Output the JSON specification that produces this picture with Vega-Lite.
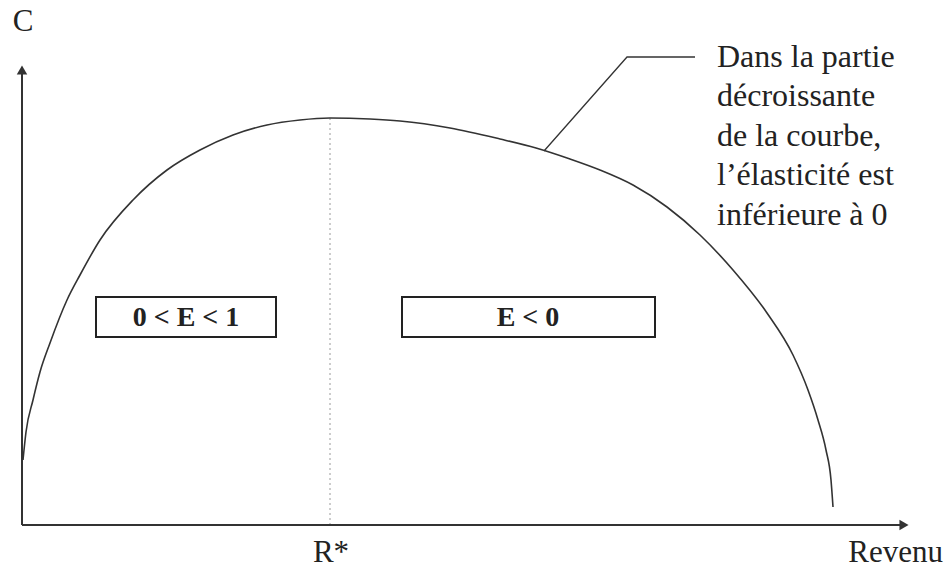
{
  "$schema": "https://vega.github.io/schema/vega-lite/v6.json",
  "width": 946,
  "height": 577,
  "autosize": {"type": "none"},
  "padding": 0,
  "background": "white",
  "config": {"view": {"stroke": null}},
  "datasets": {
    "courbe": [
      {"revenu": 1, "c": 65}, {"revenu": 4, "c": 93}, {"revenu": 11, "c": 125},
      {"revenu": 18, "c": 153}, {"revenu": 28, "c": 182}, {"revenu": 45, "c": 225},
      {"revenu": 58, "c": 250}, {"revenu": 78, "c": 285}, {"revenu": 111, "c": 325},
      {"revenu": 145, "c": 355}, {"revenu": 178, "c": 375}, {"revenu": 211, "c": 390},
      {"revenu": 245, "c": 400}, {"revenu": 278, "c": 405}, {"revenu": 308, "c": 407},
      {"revenu": 348, "c": 406}, {"revenu": 378, "c": 404}, {"revenu": 428, "c": 397},
      {"revenu": 478, "c": 386}, {"revenu": 514, "c": 377}, {"revenu": 548, "c": 366},
      {"revenu": 578, "c": 355}, {"revenu": 611, "c": 340}, {"revenu": 645, "c": 318},
      {"revenu": 678, "c": 290}, {"revenu": 711, "c": 255}, {"revenu": 745, "c": 212},
      {"revenu": 771, "c": 170}, {"revenu": 786, "c": 135}, {"revenu": 796, "c": 105},
      {"revenu": 804, "c": 75}, {"revenu": 809, "c": 45}, {"revenu": 811, "c": 18}
    ],
    "axes": [
      {"x": 0, "y": 0, "x2": 0, "y2": 458},
      {"x": 0, "y": 0, "x2": 882, "y2": 0}
    ],
    "arrows": [
      {"x": 0, "y": 455, "shape": "triangle-up"},
      {"x": 882, "y": 0, "shape": "triangle-right"}
    ],
    "rstar": [{"x": 308, "y": 0, "y2": 407}],
    "leader": [
      {"x": 522, "y": 374, "o": 1},
      {"x": 605, "y": 468, "o": 2},
      {"x": 673, "y": 468, "o": 3}
    ],
    "boxes": [
      {"x": 74, "x2": 254, "y": 188, "y2": 228, "label": "0 < E < 1", "cx": 164},
      {"x": 380, "x2": 633, "y": 188, "y2": 228, "label": "E < 0", "cx": 506}
    ],
    "labelsCenter": [
      {"x": 1, "y": 503, "text": "C"},
      {"x": 309, "y": -28, "text": "R*"}
    ],
    "labelsRight": [
      {"x": 921, "y": -28, "text": "Revenu"}
    ],
    "note": [
      {"x": 695, "y": 458, "text": "Dans la partie"},
      {"x": 695, "y": 419, "text": "décroissante"},
      {"x": 695, "y": 379, "text": "de la courbe,"},
      {"x": 695, "y": 340, "text": "l’élasticité est"},
      {"x": 695, "y": 300, "text": "inférieure à 0"}
    ]
  },
  "layer": [
    {
      "data": {"name": "rstar"},
      "mark": {"type": "rule", "color": "#9a9a9a", "strokeWidth": 1, "strokeDash": [2, 3]},
      "encoding": {
        "x": {"field": "x", "type": "quantitative", "scale": {"domain": [-22, 924], "nice": false, "zero": false}, "axis": null},
        "y": {"field": "y", "type": "quantitative", "scale": {"domain": [-52, 525], "nice": false, "zero": false}, "axis": null},
        "y2": {"field": "y2"}
      }
    },
    {
      "data": {"name": "axes"},
      "mark": {"type": "rule", "color": "#333333", "strokeWidth": 2},
      "encoding": {
        "x": {"field": "x", "type": "quantitative"},
        "y": {"field": "y", "type": "quantitative"},
        "x2": {"field": "x2"},
        "y2": {"field": "y2"}
      }
    },
    {
      "data": {"name": "arrows"},
      "mark": {"type": "point", "filled": true, "color": "#333333", "size": 110, "opacity": 1},
      "encoding": {
        "x": {"field": "x", "type": "quantitative"},
        "y": {"field": "y", "type": "quantitative"},
        "shape": {"field": "shape", "type": "nominal", "scale": null}
      }
    },
    {
      "data": {"name": "courbe"},
      "mark": {"type": "line", "color": "#333333", "strokeWidth": 1.6, "interpolate": "monotone"},
      "encoding": {
        "x": {"field": "revenu", "type": "quantitative"},
        "y": {"field": "c", "type": "quantitative"}
      }
    },
    {
      "data": {"name": "leader"},
      "mark": {"type": "line", "color": "#333333", "strokeWidth": 1.3},
      "encoding": {
        "x": {"field": "x", "type": "quantitative"},
        "y": {"field": "y", "type": "quantitative"},
        "order": {"field": "o"}
      }
    },
    {
      "data": {"name": "boxes"},
      "mark": {"type": "rect", "fill": "white", "fillOpacity": 0, "stroke": "#222222", "strokeWidth": 2},
      "encoding": {
        "x": {"field": "x", "type": "quantitative"},
        "x2": {"field": "x2"},
        "y": {"field": "y", "type": "quantitative"},
        "y2": {"field": "y2"}
      }
    },
    {
      "data": {"name": "boxes"},
      "mark": {"type": "text", "font": "Liberation Serif, Times New Roman, serif", "fontSize": 28, "fontWeight": "bold", "color": "#222222", "baseline": "middle", "align": "center", "dy": 1},
      "encoding": {
        "x": {"field": "cx", "type": "quantitative"},
        "y": {"field": "y", "type": "quantitative"},
        "text": {"field": "label"},
        "yOffset": {"value": -20}
      }
    },
    {
      "data": {"name": "labelsCenter"},
      "mark": {"type": "text", "font": "Liberation Serif, Times New Roman, serif", "fontSize": 31, "color": "#222222", "baseline": "middle", "align": "center"},
      "encoding": {
        "x": {"field": "x", "type": "quantitative"},
        "y": {"field": "y", "type": "quantitative"},
        "text": {"field": "text"}
      }
    },
    {
      "data": {"name": "labelsRight"},
      "mark": {"type": "text", "font": "Liberation Serif, Times New Roman, serif", "fontSize": 31, "color": "#222222", "baseline": "middle", "align": "right"},
      "encoding": {
        "x": {"field": "x", "type": "quantitative"},
        "y": {"field": "y", "type": "quantitative"},
        "text": {"field": "text"}
      }
    },
    {
      "data": {"name": "note"},
      "mark": {"type": "text", "font": "Liberation Serif, Times New Roman, serif", "fontSize": 32, "color": "#222222", "baseline": "alphabetic", "align": "left"},
      "encoding": {
        "x": {"field": "x", "type": "quantitative"},
        "y": {"field": "y", "type": "quantitative"},
        "text": {"field": "text"}
      }
    }
  ]
}
